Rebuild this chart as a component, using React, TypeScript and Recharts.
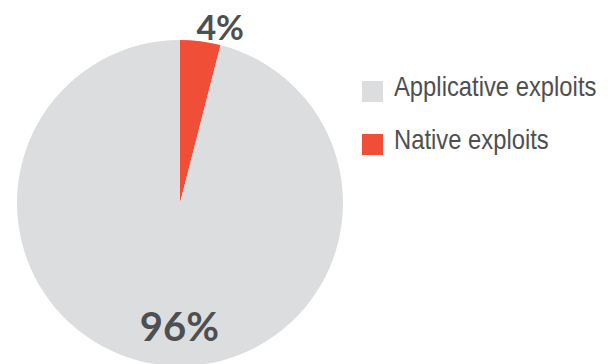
import React from "react";
import { PieChart, Pie, Cell, Legend } from "recharts";

const categories = ["Native exploits", "Applicative exploits"];
const shares = [4, 96];
const colors = ["#f04e37", "#dcdddf"];
const legendOrder = ["Applicative exploits", "Native exploits"];

const data = categories.map((name, i) => ({ name, value: shares[i] }));

const RADIAN = Math.PI / 180;
const TEXT = "#4e4f51";

// outside label for the thin slice, inside label for the big one
const renderLabel = (props: any) => {
  const { cx, cy, midAngle, outerRadius, index, value } = props;
  const outside = index === 0;
  const r = outside ? outerRadius + 14 : outerRadius - 38;
  const x = cx + r * Math.cos(-midAngle * RADIAN);
  const y = cy + r * Math.sin(-midAngle * RADIAN);
  const size = outside ? 34 : 40;
  return (
    <text
      x={x}
      y={y}
      dx={outside ? 18 : 15}
      dy={size * 0.36}
      textAnchor="middle"
      fill={TEXT}
      fontFamily="Lato, 'Open Sans', sans-serif"
      fontWeight={700}
      fontSize={size}
    >
      {`${value}%`}
    </text>
  );
};

const renderLegend = (props: any) => {
  const items = [...(props.payload || [])].sort(
    (a: any, b: any) => legendOrder.indexOf(a.value) - legendOrder.indexOf(b.value)
  );
  return (
    <div>
      {items.map((entry: any) => (
        <div
          key={entry.value}
          style={{ display: "flex", alignItems: "flex-start", height: 53 }}
        >
          <div
            style={{
              width: 21,
              height: 21,
              marginTop: 8,
              flexShrink: 0,
              background: entry.color,
            }}
          />
          <span
            style={{
              display: "inline-block",
              marginLeft: 11,
              fontFamily: "'Liberation Sans', Arial, sans-serif",
              fontSize: 28,
              lineHeight: "28px",
              color: TEXT,
              whiteSpace: "nowrap",
              transform: "scaleX(0.85)",
              transformOrigin: "left center",
            }}
          >
            {entry.value}
          </span>
        </div>
      ))}
    </div>
  );
};

export default function App() {
  return (
    <div style={{ position: "absolute", left: 0, top: 0, width: 610, height: 364, background: "#fff" }}>
      <PieChart width={610} height={364} margin={{ top: 0, right: 0, bottom: 0, left: 0 }}>
        <Pie
          data={data}
          dataKey="value"
          nameKey="name"
          cx={180}
          cy={203}
          outerRadius={163}
          startAngle={90}
          endAngle={-270}
          stroke="none"
          label={renderLabel}
          labelLine={false}
          isAnimationActive={false}
        >
          {data.map((_, i) => (
            <Cell key={i} fill={colors[i]} />
          ))}
        </Pie>
        <Legend
          content={renderLegend}
          layout="vertical"
          wrapperStyle={{ position: "absolute", left: 362, top: 73, width: 248 }}
        />
      </PieChart>
    </div>
  );
}
